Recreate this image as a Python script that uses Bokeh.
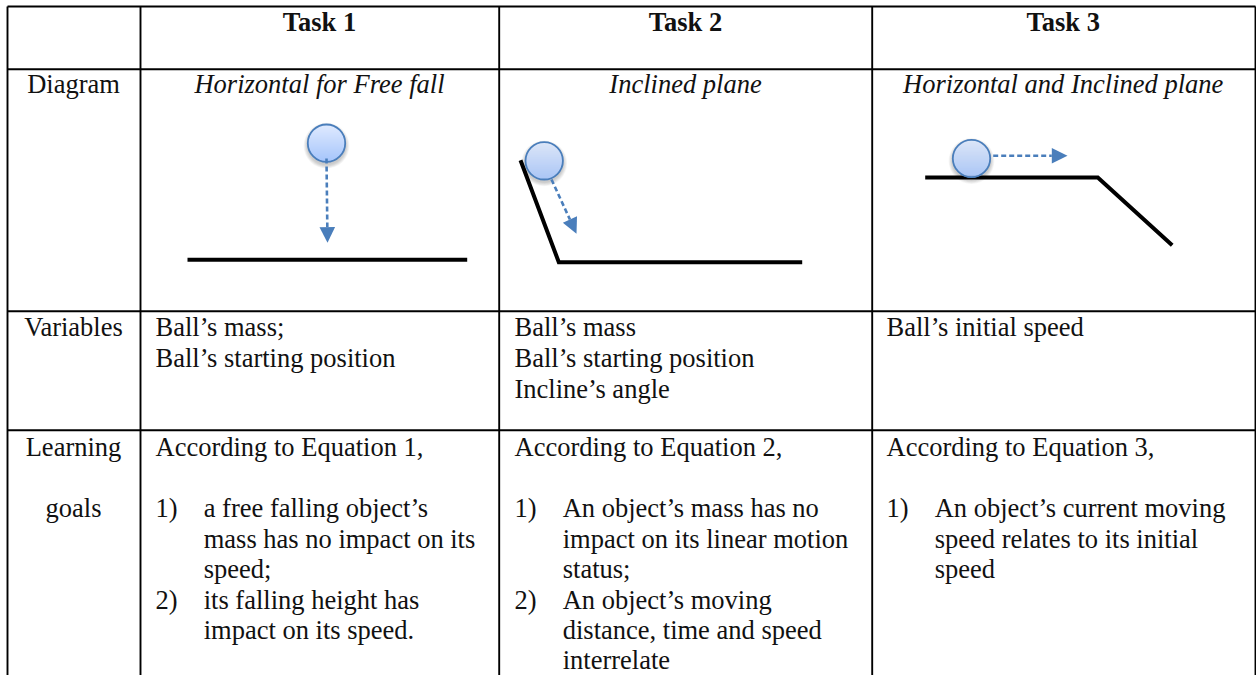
from bokeh.plotting import figure
from bokeh.models import Range1d
from bokeh.core.properties import value
from bokeh.embed import file_html
from bokeh.resources import INLINE
import numpy as np

# table structure
col_edges = [7, 140, 498.7, 871.7, 1255]
row_edges = [6, 68.7, 310.7, 429.7, 675]
header_labels = ["Task 1", "Task 2", "Task 3"]
label_lines = [("Diagram", 92.7), ("Variables", 335.5), ("Learning", 455), ("goals", 516.7)]
diagram_titles = ["Horizontal for Free fall", "Inclined plane", "Horizontal and Inclined plane"]
variables = [["Ball\u2019s mass;", "Ball\u2019s starting position"],
             ["Ball\u2019s mass", "Ball\u2019s starting position", "Incline\u2019s angle"],
             ["Ball\u2019s initial speed"]]
intro = ["According to Equation 1,", "According to Equation 2,", "According to Equation 3,"]
goals = [
    [("1)", "a free falling object\u2019s"), ("", "mass has no impact on its"), ("", "speed;"),
     ("2)", "its falling height has"), ("", "impact on its speed.")],
    [("1)", "An object\u2019s mass has no"), ("", "impact on its linear motion"), ("", "status;"),
     ("2)", "An object\u2019s moving"), ("", "distance, time and speed"), ("", "interrelate")],
    [("1)", "An object\u2019s current moving"), ("", "speed relates to its initial"), ("", "speed")],
]
# diagrams (page coordinates)
surfaces = [([187, 466.7], [259.3, 259.3]),
            ([520, 558.3, 801.7], [159.7, 261.7, 261.7]),
            ([924.7, 1097.3, 1171.7], [177, 177, 244.7])]
balls = [(326, 142.7), (543.7, 160.3), (971, 158)]
arrows = [(326, 158, 327, 242.3), (551, 179, 576, 233.3), (992.7, 155.3, 1067, 155.3)]

FONT = value("Liberation Serif")
SIZE = "26.5px"
BLUE = "#4a7ebb"
TEXT_DY = -8.8

p = figure(width=1256, height=675, x_range=Range1d(0, 1256), y_range=Range1d(675, 0),
           output_backend="svg", toolbar_location=None, min_border=0,
           outline_line_color=None, x_axis_type=None, y_axis_type=None)
p.grid.visible = False

# grid
for x in col_edges:
    p.line([x, x], [row_edges[0], row_edges[-1]], line_color="black", line_width=1.9)
for y in row_edges[:-1]:
    p.line([col_edges[0], col_edges[-1]], [y, y], line_color="black", line_width=1.9)


def txt(x, y, s, align="left", style="normal"):
    p.text([x], [y + TEXT_DY], text=[s], text_font=FONT, text_font_size=SIZE, text_color="#111111",
           text_align=align, text_baseline="alphabetic", text_font_style=style)


centers = [319, 685, 1062.7]
lab_x = 73
for c, s in zip(centers, header_labels):
    txt(c, 30.7, s, "center", "bold")
for c, s in zip(centers, diagram_titles):
    txt(c, 92.7, s, "center", "italic")
for s, y in label_lines:
    txt(lab_x, y, s, "center")

cell_x = [155, 514, 886]
for x, lines in zip(cell_x, variables):
    for i, s in enumerate(lines):
        txt(x, 335.5 + i * 30.8, s)
for x, s in zip(cell_x, intro):
    txt(x, 455, s)
for x, lines in zip(cell_x, goals):
    for i, (n, s) in enumerate(lines):
        y = 516.7 + i * 30.4
        if n:
            txt(x, y, n)
        txt(x + 48.2, y, s)

# surfaces
for xs, ys in surfaces:
    p.line(xs, ys, line_color="black", line_width=4, line_join="miter")

# balls: shadow, gradient, outline
R = 18.7
top_col = np.array([224, 234, 255])
bot_col = np.array([166, 198, 252])
for cx, cy in balls:
    for k in range(6, 0, -1):
        p.circle([cx], [cy + 2.5], radius=R + k * 0.7, fill_color="black", fill_alpha=0.035, line_color=None)
    ys = np.arange(cy - R, cy + R + 0.5, 1.0)
    half = np.sqrt(np.clip(R ** 2 - (ys - cy) ** 2, 0, None))
    t = (ys - ys[0]) / (ys[-1] - ys[0])
    cols = ["#%02x%02x%02x" % tuple((top_col + (bot_col - top_col) * v).astype(int)) for v in t]
    p.segment(cx - half, ys, cx + half, ys, line_color=cols, line_width=1.2)
    p.circle([cx], [cy], radius=R, fill_color=None, line_color=BLUE, line_width=1.8)

# arrows
for x0, y0, x1, y1 in arrows:
    d = np.array([x1 - x0, y1 - y0], dtype=float)
    L = np.hypot(*d)
    u = d / L
    n = np.array([-u[1], u[0]])
    hl, hw = 15.7, 7.8
    base = np.array([x1, y1]) - u * hl
    p.line([x0, base[0]], [y0, base[1]], line_color=BLUE, line_width=2.6, line_dash="5 3")
    a = base + n * hw
    b = base - n * hw
    p.patch([x1, a[0], b[0]], [y1, a[1], b[1]], fill_color=BLUE, line_color=None)

open("out.html", "w").write(file_html(p, INLINE))
